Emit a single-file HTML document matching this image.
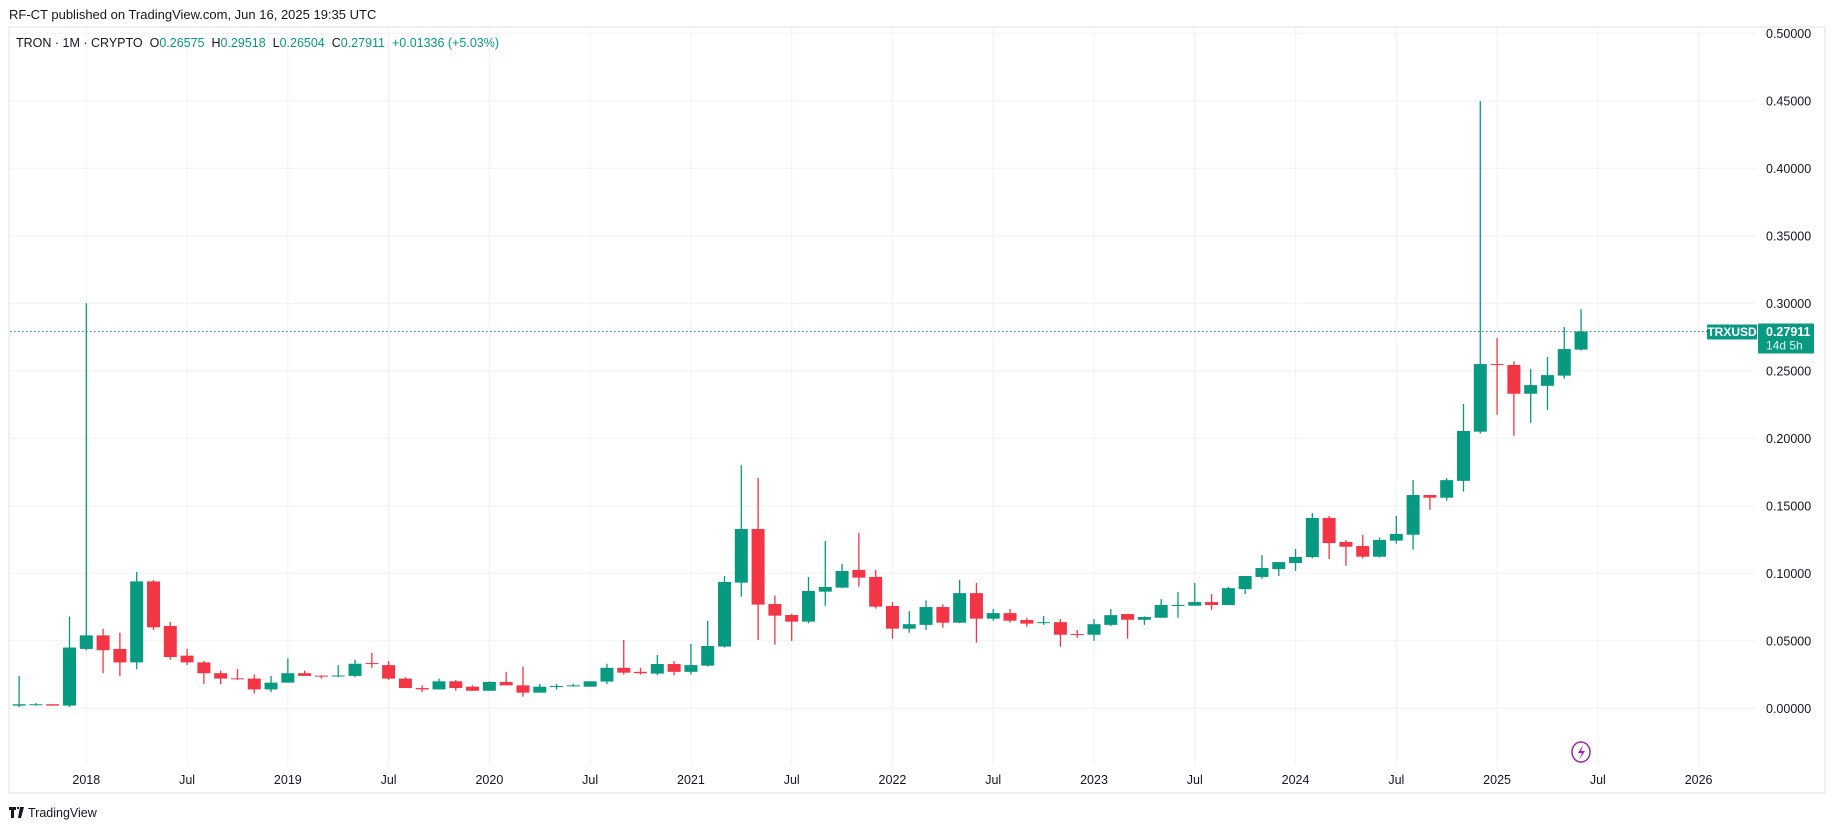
<!DOCTYPE html>
<html><head><meta charset="utf-8">
<style>
html,body{margin:0;padding:0;background:#fff;width:1835px;height:829px;overflow:hidden;font-family:"Liberation Sans",sans-serif;}
svg{display:block}
.pre{white-space:pre}
</style></head>
<body>
<svg id="chart" width="1835" height="829" viewBox="0 0 1835 829" xmlns="http://www.w3.org/2000/svg">
<text x="9" y="19" font-size="13" fill="#131722" font-family="Liberation Sans, sans-serif">RF-CT published on TradingView.com, Jun 16, 2025 19:35 UTC</text>
<rect x="9" y="27" width="1816" height="766" fill="#fff" stroke="#f0f0f0" stroke-width="2"/>
<g id="grid"></g>
<g id="candles"></g>
<g id="axes"></g>
<text class="pre" x="16" y="47" font-size="12.5" fill="#131722" font-family="Liberation Sans, sans-serif" xml:space="preserve">TRON · 1M · CRYPTO  O<tspan fill="#089981">0.26575</tspan>  H<tspan fill="#089981">0.29518</tspan>  L<tspan fill="#089981">0.26504</tspan>  C<tspan fill="#089981">0.27911</tspan>  <tspan fill="#089981">+0.01336 (+5.03%)</tspan></text>
<g>
<ellipse cx="1581" cy="752" rx="9" ry="10" fill="#fff" stroke="#9c27b0" stroke-width="1.5"/>
<path d="M1583 745 L1578 753 L1582 753 L1579 760 L1585 751 L1581 751 Z" fill="#9c27b0"/>
</g>
<g>
<path d="M9 807 h7 v3 h-2 v8 h-3 v-8 h-2 z M17 807 h2 v2 h-2 z M20 807 h4 l-3 11 h-3 z" fill="#131722"/>
<text x="28" y="817" font-size="12.5" fill="#131722" font-family="Liberation Sans, sans-serif">TradingView</text>
</g>
</svg>
<script>
const months = ["Sep17","Oct17","Nov17","Dec17","Jan18","Feb18","Mar18","Apr18","May18","Jun18","Jul18","Aug18","Sep18","Oct18","Nov18","Dec18","Jan19","Feb19","Mar19","Apr19","May19","Jun19","Jul19","Aug19","Sep19","Oct19","Nov19","Dec19","Jan20","Feb20","Mar20","Apr20","May20","Jun20","Jul20","Aug20","Sep20","Oct20","Nov20","Dec20","Jan21","Feb21","Mar21","Apr21","May21","Jun21","Jul21","Aug21","Sep21","Oct21","Nov21","Dec21","Jan22","Feb22","Mar22","Apr22","May22","Jun22","Jul22","Aug22","Sep22","Oct22","Nov22","Dec22","Jan23","Feb23","Mar23","Apr23","May23","Jun23","Jul23","Aug23","Sep23","Oct23","Nov23","Dec23","Jan24","Feb24","Mar24","Apr24","May24","Jun24","Jul24","Aug24","Sep24","Oct24","Nov24","Dec24","Jan25","Feb25","Mar25","Apr25","May25","Jun25"];
const opens = [.002,.003,.003,.002,.044,.054,.044,.034,.094,.061,.039,.034,.026,.0222,.022,.014,.019,.026,.0242,.0238,.024,.0335,.032,.022,.015,.014,.020,.016,.013,.0195,.017,.0116,.016,.0165,.016,.0198,.030,.027,.0257,.0328,.027,.0316,.0457,.0931,.1328,.0773,.0691,.0642,.0864,.0894,.1025,.0973,.0758,.059,.0618,.075,.0634,.0853,.0664,.0705,.0654,.0634,.0638,.055,.0545,.0618,.0698,.0656,.0671,.076,.076,.0787,.0765,.0883,.0973,.1031,.1076,.112,.141,.1232,.1202,.1123,.1242,.1286,.158,.156,.1685,.2049,.255,.2543,.233,.2389,.2464,.2657];
const highs = [.024,.004,.003,.068,.300,.059,.056,.101,.095,.064,.044,.035,.028,.029,.025,.024,.037,.028,.0245,.032,.036,.041,.035,.023,.017,.022,.021,.017,.020,.027,.031,.018,.018,.018,.020,.033,.0506,.030,.0395,.035,.0477,.0647,.098,.180,.1706,.0835,.070,.0973,.124,.107,.1299,.1025,.0788,.072,.080,.077,.095,.0928,.0736,.0736,.067,.0683,.066,.058,.0661,.0736,.070,.068,.0809,.0862,.0928,.0846,.090,.098,.1135,.1083,.118,.1446,.1425,.1247,.1284,.1265,.1425,.169,.158,.1705,.2254,.4498,.2743,.257,.2513,.2602,.2824,.2957];
const lows = [.001,.002,.002,.001,.043,.026,.024,.029,.058,.036,.032,.018,.018,.021,.011,.012,.019,.024,.022,.023,.023,.030,.021,.015,.012,.014,.013,.013,.013,.017,.0086,.0116,.014,.016,.016,.018,.025,.025,.0245,.0245,.025,.031,.045,.0827,.0506,.0472,.0499,.063,.076,.089,.0901,.0738,.0516,.056,.058,.0597,.063,.0486,.0649,.0634,.0604,.0618,.0456,.0523,.050,.061,.0516,.0618,.067,.0671,.076,.073,.0765,.0846,.096,.098,.1017,.111,.1106,.1056,.1109,.1116,.122,.1175,.1471,.1538,.1605,.2034,.2175,.2019,.2115,.2211,.2442,.2650];
const closes = [.003,.003,.002,.045,.054,.043,.034,.094,.060,.038,.034,.026,.022,.0218,.014,.019,.026,.024,.0238,.0243,.033,.0328,.022,.015,.014,.020,.015,.013,.0195,.017,.0116,.016,.0165,.017,.020,.030,.0264,.026,.0328,.027,.032,.0462,.0936,.1328,.0768,.0686,.0642,.0869,.0899,.1017,.0968,.0753,.059,.0623,.075,.0634,.0853,.0664,.0705,.0649,.0627,.0638,.0545,.0545,.0623,.069,.0656,.0676,.0765,.0765,.0787,.0765,.089,.098,.1039,.1083,.1121,.141,.1224,.1197,.1123,.1247,.1291,.158,.156,.169,.2054,.255,.2545,.233,.2394,.2468,.2661,.2791];
const priceTicks = [0,0.05,0.1,0.15,0.2,0.25,0.3,0.35,0.4,0.45,0.5];
const timeLabels = ["2018","Jul","2019","Jul","2020","Jul","2021","Jul","2022","Jul","2023","Jul","2024","Jul","2025","Jul","2026"];
const lastPrice = 0.27911;

const NS="http://www.w3.org/2000/svg";
function yScale(v){return 708.3 - v*1350;}
function xScale(i){return 86.3 + 16.795*(i-4);}
function mk(tag,attrs,parent){const e=document.createElementNS(NS,tag);for(const k in attrs)e.setAttribute(k,attrs[k]);parent.appendChild(e);return e;}
const grid=document.getElementById('grid'), cg=document.getElementById('candles'), ax=document.getElementById('axes');

priceTicks.forEach(t=>{
  const y=yScale(t);
  const l=mk('line',{x1:10,x2:1756,y1:y,y2:y,stroke:'#f2f3f5','stroke-width':1.2},grid);
  
  
  const tx=mk('text',{x:1766,y:y+4.5,'font-size':12.5,fill:'#131722','font-family':'Liberation Sans, sans-serif'},ax);
  tx.textContent=t.toFixed(5);
  
  
});
timeLabels.forEach((lab,k)=>{
  const x=xScale(4+k*6);
  const l=mk('line',{x1:x,x2:x,y1:28,y2:765,stroke:'#f2f3f5','stroke-width':1.2},grid);
  
  
  const tx=mk('text',{x:x,y:784,'font-size':12.5,fill:'#131722','text-anchor':'middle','font-family':'Liberation Sans, sans-serif'},ax);
  tx.textContent=lab;
  
  
});

months.forEach((m,i)=>{
  const up=closes[i]>=opens[i];
  const col=up?'#089981':'#F23645';
  const x=xScale(i);
  const g=mk('g',{},cg);
  
  
  mk('line',{x1:x,x2:x,y1:yScale(highs[i]),y2:yScale(lows[i]),stroke:col,'stroke-width':1.3},g);
  const top=yScale(Math.max(opens[i],closes[i])), bot=yScale(Math.min(opens[i],closes[i]));
  mk('rect',{x:x-6.5,y:top,width:13,height:Math.max(1,bot-top),fill:col},g);
});

const ly=yScale(lastPrice);
const dl=mk('line',{x1:10,x2:1707,y1:ly,y2:ly,stroke:'#089981','stroke-width':1,'stroke-dasharray':'1.5 2.5'},ax);


const sb=mk('g',{},ax);


mk('rect',{x:1707,y:ly-7,width:50,height:15,fill:'#089981',rx:1},sb);
const st=mk('text',{x:1732,y:ly+4.5,'font-size':12,'font-weight':'bold',fill:'#fff','text-anchor':'middle','font-family':'Liberation Sans, sans-serif'},sb);
st.textContent='TRXUSD';
const pb=mk('g',{},ax);


mk('rect',{x:1758,y:ly-8,width:56,height:30,fill:'#089981',rx:1},pb);
const pt=mk('text',{x:1766,y:ly+4.5,'font-size':12.5,'font-weight':'bold',fill:'#fff','font-family':'Liberation Sans, sans-serif'},pb);
pt.textContent=lastPrice.toFixed(5);
const ct=mk('text',{x:1766,y:ly+18,'font-size':12,fill:'#e8f5f2','font-family':'Liberation Sans, sans-serif'},pb);
ct.textContent='14d 5h';
</script>
</body></html>
